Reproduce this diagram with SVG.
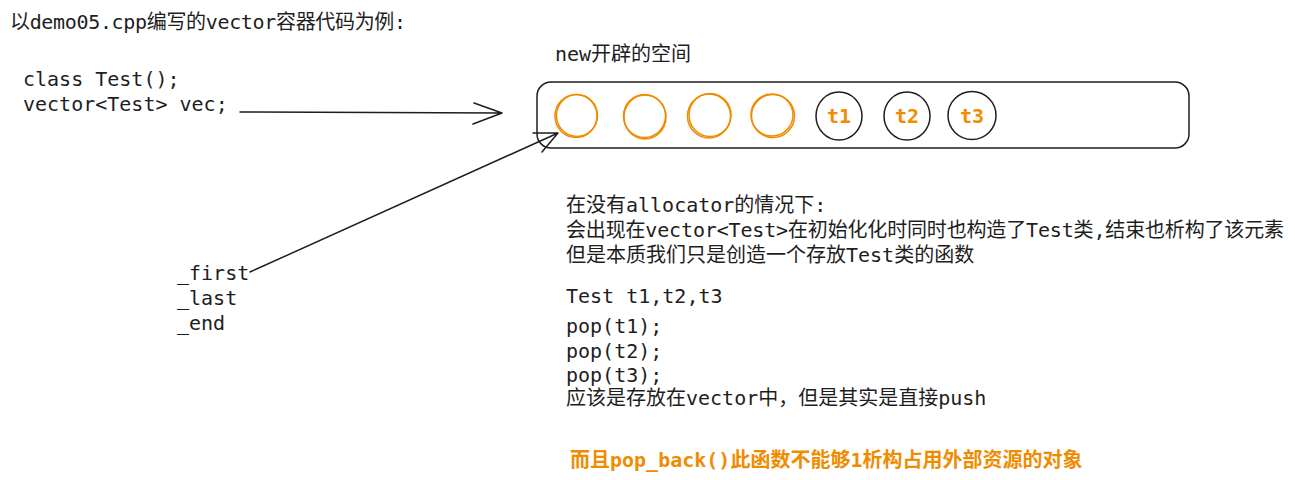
<svg xmlns="http://www.w3.org/2000/svg" width="1295" height="480" viewBox="0 0 1295 480">
<style>
text{font-family:"DejaVu Sans Mono","Noto Sans CJK SC",monospace;font-size:20px;fill:#1e1e1e}
.or{fill:#f08c00}
.b{font-weight:bold}
.ring{fill:none;stroke:#f08c00;stroke-width:1.5}
.bk{fill:none;stroke:#1e1e1e;stroke-width:1.5}
.ln{fill:none;stroke:#1e1e1e;stroke-width:1.5;stroke-linecap:round;stroke-linejoin:round}
</style>
<rect width="1295" height="480" fill="#ffffff"/>
<g id="title"><text x="10" y="29" textLength="396" lengthAdjust="spacing">以demo05.cpp编写的vector容器代码为例:</text></g>
<g id="code"><text x="23" y="86">class Test();</text><text x="23" y="111">vector&lt;Test&gt; vec;</text></g>
<g id="pointers"><text x="177" y="280">_first</text><text x="177" y="305">_last</text><text x="177" y="330">_end</text></g>
<g id="space-label"><text x="555" y="61">new开辟的空间</text></g>
<g id="space">
<rect x="537" y="82" width="652" height="66" rx="14" class="bk"/>
<ellipse cx="576" cy="116" rx="21" ry="21.5" class="ring"/><ellipse cx="577" cy="115.5" rx="20.5" ry="21" class="ring" stroke-width="0.8"/>
<ellipse cx="645" cy="117" rx="21" ry="22" class="ring"/><ellipse cx="644.5" cy="116" rx="21" ry="21.5" class="ring" stroke-width="0.8"/>
<ellipse cx="709" cy="116" rx="21.5" ry="22" class="ring"/><ellipse cx="710" cy="115" rx="21" ry="21.5" class="ring" stroke-width="0.8"/>
<ellipse cx="773" cy="116" rx="21.5" ry="21.5" class="ring"/><ellipse cx="772" cy="115" rx="21" ry="21" class="ring" stroke-width="0.8"/>
<ellipse cx="839" cy="116" rx="23" ry="24" class="bk"/>
<ellipse cx="907" cy="116" rx="23" ry="24" class="bk"/>
<ellipse cx="972" cy="115.5" rx="24" ry="24" class="bk"/>
<text x="839" y="123" text-anchor="middle" class="or b">t1</text>
<text x="907" y="123" text-anchor="middle" class="or b">t2</text>
<text x="972" y="123" text-anchor="middle" class="or b">t3</text>
</g>
<g id="connectors">
<path class="ln" d="M240,112 L502,113 M474,103 L502,113 L473,124"/>
<path class="ln" d="M250,272 L558,133 M533,133 L558,133 L542,152"/>
</g>
<g id="notes">
<text x="566" y="212">在没有allocator的情况下:</text>
<text x="566" y="237" textLength="718" lengthAdjust="spacing">会出现在vector&lt;Test&gt;在初始化化时同时也构造了Test类,结束也析构了该元素</text>
<text x="566" y="262">但是本质我们只是创造一个存放Test类的函数</text>
<text x="566" y="303">Test t1,t2,t3</text>
<text x="566" y="333">pop(t1);</text>
<text x="566" y="358">pop(t2);</text>
<text x="566" y="382">pop(t3);</text>
<text x="566" y="405">应该是存放在vector中，但是其实是直接push</text>
</g>
<g id="warning"><text x="570" y="467" class="or b">而且pop_back()此函数不能够1析构占用外部资源的对象</text></g>
</svg>
